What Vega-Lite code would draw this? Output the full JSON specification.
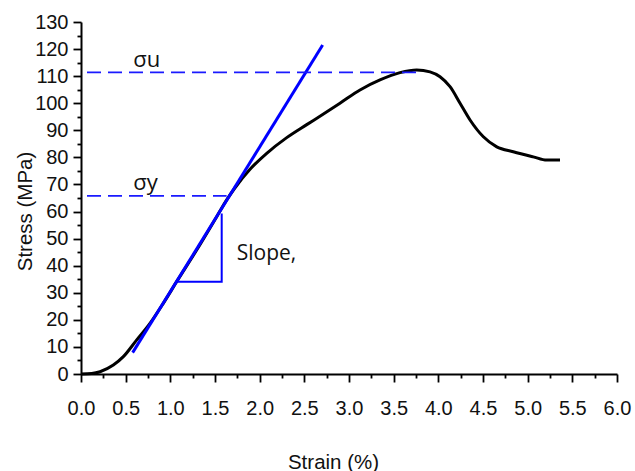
{
  "$schema": "https://vega.github.io/schema/vega-lite/v6.json",
  "width": 536,
  "height": 352,
  "autosize": {"type": "none"},
  "padding": {"left": 81, "top": 22, "right": 18, "bottom": 97},
  "background": "white",
  "config": {
    "view": {"stroke": null},
    "axis": {
      "grid": false,
      "domainColor": "black",
      "domainWidth": 2,
      "tickColor": "black",
      "tickWidth": 1.8,
      "labelColor": "#111111",
      "labelFont": "Liberation Sans",
      "labelFontSize": 20,
      "titleFont": "Liberation Sans",
      "titleFontSize": 20.5,
      "titleFontWeight": "normal",
      "titleColor": "#111111",
      "labelFlush": false,
      "labelOverlap": false,
      "labelBound": false
    }
  },
  "resolve": {"axis": {"x": "independent", "y": "independent"}},
  "datasets": {
    "curve": [
      {"strain": 0, "stress": 0},
      {"strain": 0.12, "stress": 0.2},
      {"strain": 0.213, "stress": 0.85},
      {"strain": 0.362, "stress": 3.3},
      {"strain": 0.474, "stress": 6.4},
      {"strain": 0.624, "stress": 12.6},
      {"strain": 0.772, "stress": 18.7},
      {"strain": 0.921, "stress": 26.1},
      {"strain": 1.071, "stress": 34.1},
      {"strain": 1.295, "stress": 45.8},
      {"strain": 1.519, "stress": 58.1},
      {"strain": 1.631, "stress": 64.3},
      {"strain": 1.72, "stress": 68.6},
      {"strain": 1.892, "stress": 75.6},
      {"strain": 2.079, "stress": 81.5},
      {"strain": 2.303, "stress": 87.3},
      {"strain": 2.527, "stress": 92.1},
      {"strain": 2.675, "stress": 95.2},
      {"strain": 2.899, "stress": 100.0},
      {"strain": 3.123, "stress": 104.9},
      {"strain": 3.347, "stress": 108.6},
      {"strain": 3.571, "stress": 111.3},
      {"strain": 3.758, "stress": 112.3},
      {"strain": 3.907, "stress": 111.6},
      {"strain": 4.019, "stress": 109.8},
      {"strain": 4.131, "stress": 106.1},
      {"strain": 4.243, "stress": 100.0},
      {"strain": 4.355, "stress": 93.8},
      {"strain": 4.504, "stress": 87.6},
      {"strain": 4.654, "stress": 83.9},
      {"strain": 4.839, "stress": 82.1},
      {"strain": 5.063, "stress": 80.2},
      {"strain": 5.213, "stress": 79.0},
      {"strain": 5.362, "stress": 79.0}
    ],
    "tangent": [
      {"strain": 0.578, "stress": 7.9},
      {"strain": 2.705, "stress": 121.5}
    ],
    "guides": [
      {"name": "sigma_u", "strain": 0, "stress": 111.4},
      {"name": "sigma_u", "strain": 3.77, "stress": 111.4},
      {"name": "sigma_y", "strain": 0, "stress": 65.8},
      {"name": "sigma_y", "strain": 1.63, "stress": 65.8}
    ],
    "triangle": [
      {"i": 0, "strain": 1.082, "stress": 34.1},
      {"i": 1, "strain": 1.575, "stress": 34.1},
      {"i": 2, "strain": 1.575, "stress": 59.3}
    ],
    "sigmaLabels": [
      {"label": "σu", "strain": 0.585, "stress": 113.5},
      {"label": "σy", "strain": 0.585, "stress": 67.9}
    ],
    "slopeLabel": [
      {"label": "Slope,", "strain": 1.743, "stress": 42.1}
    ]
  },
  "layer": [
    {
      "data": {"name": "curve"},
      "mark": {"type": "line", "color": "black", "strokeWidth": 3, "interpolate": "monotone"},
      "encoding": {
        "x": {
          "field": "strain", "type": "quantitative",
          "scale": {"domain": [0, 6], "nice": false},
          "axis": {
            "orient": "bottom",
            "title": "Strain (%)",
            "values": [0, 0.5, 1, 1.5, 2, 2.5, 3, 3.5, 4, 4.5, 5, 5.5, 6],
            "format": ".1f",
            "tickSize": 8,
            "labelPadding": 16,
            "titleX": 252,
            "titleY": 94,
            "titleAlign": "center",
            "titleBaseline": "alphabetic"
          }
        },
        "y": {
          "field": "stress", "type": "quantitative",
          "scale": {"domain": [0, 130], "nice": false},
          "axis": {
            "orient": "left",
            "title": "Stress (MPa)",
            "values": [0, 10, 20, 30, 40, 50, 60, 70, 80, 90, 100, 110, 120, 130],
            "format": "d",
            "tickSize": 8,
            "labelPadding": 5,
            "titleX": -50,
            "titleY": 189,
            "titleAngle": -90,
            "titleAlign": "center",
            "titleBaseline": "alphabetic"
          }
        }
      }
    },
    {
      "data": {"name": "tangent"},
      "mark": {"type": "line", "color": "#0000ff", "strokeWidth": 3},
      "encoding": {
        "x": {
          "field": "strain", "type": "quantitative",
          "axis": {
            "orient": "bottom",
            "title": null,
            "labels": false,
            "domain": false,
            "tickSize": 4,
            "values": [0.25, 0.75, 1.25, 1.75, 2.25, 2.75, 3.25, 3.75, 4.25, 4.75, 5.25, 5.75]
          }
        },
        "y": {
          "field": "stress", "type": "quantitative",
          "axis": {
            "orient": "left",
            "title": null,
            "labels": false,
            "domain": false,
            "tickSize": 4,
            "values": [5, 15, 25, 35, 45, 55, 65, 75, 85, 95, 105, 115, 125]
          }
        }
      }
    },
    {
      "data": {"name": "guides"},
      "mark": {"type": "line", "color": "#1a1aff", "strokeWidth": 1.8, "strokeDash": [14, 7], "strokeDashOffset": 15},
      "encoding": {
        "x": {"field": "strain", "type": "quantitative", "axis": null},
        "y": {"field": "stress", "type": "quantitative", "axis": null},
        "detail": {"field": "name"}
      }
    },
    {
      "data": {"name": "triangle"},
      "mark": {"type": "line", "color": "#0000ff", "strokeWidth": 2},
      "encoding": {
        "x": {"field": "strain", "type": "quantitative", "axis": null},
        "y": {"field": "stress", "type": "quantitative", "axis": null},
        "order": {"field": "i", "type": "quantitative"}
      }
    },
    {
      "data": {"name": "sigmaLabels"},
      "mark": {"type": "text", "align": "left", "baseline": "alphabetic", "font": "Open Sans", "fontSize": 22, "color": "#111111"},
      "encoding": {
        "x": {"field": "strain", "type": "quantitative", "axis": null},
        "y": {"field": "stress", "type": "quantitative", "axis": null},
        "text": {"field": "label"}
      }
    },
    {
      "data": {"name": "slopeLabel"},
      "mark": {"type": "text", "align": "left", "baseline": "alphabetic", "font": "Open Sans", "fontSize": 21, "color": "#111111"},
      "encoding": {
        "x": {"field": "strain", "type": "quantitative", "axis": null},
        "y": {"field": "stress", "type": "quantitative", "axis": null},
        "text": {"field": "label"}
      }
    }
  ]
}
